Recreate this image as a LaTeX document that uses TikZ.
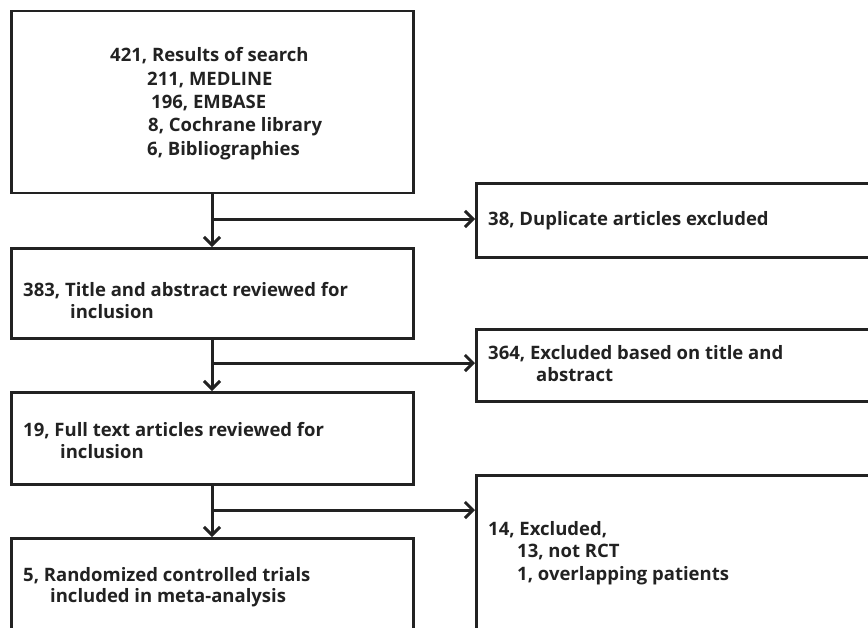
\documentclass[tikz,border=0pt]{standalone}
\usepackage{fontspec}
\setmainfont{Open Sans}
\usetikzlibrary{arrows.meta}
\definecolor{ink}{HTML}{222222}
\begin{document}
\begin{tikzpicture}[x=1pt,y=-1pt,
  box/.style={draw=ink, line width=2.8pt, rectangle, inner sep=0pt, anchor=north west},
  lbl/.style={anchor=base west, inner sep=0pt, text=ink, font=\bfseries\fontsize{18.5}{22}\selectfont},
  arr/.style={draw=ink, line width=3pt, -{Straight Barb[length=8pt,width=16pt]}},
  seg/.style={draw=ink, line width=3pt}]
\useasboundingbox (0,0) rectangle (868,627);
\clip (0,0) rectangle (868,627);
% boxes
\node[box, minimum width=402pt, minimum height=182pt] (b1) at (10,9.5) {};
\node[box, minimum width=450pt, minimum height=74pt] (r1) at (475,182) {};
\node[box, minimum width=402pt, minimum height=90pt] (b2) at (10,247) {};
\node[box, minimum width=450pt, minimum height=72pt] (r2) at (475,328) {};
\node[box, minimum width=402pt, minimum height=92pt] (b3) at (10,391) {};
\node[box, minimum width=450pt, minimum height=200pt] (r3) at (475,474) {};
\node[box, minimum width=402pt, minimum height=150pt] (b4) at (10,537) {};
% junctions
\coordinate (j1) at (212,219);
\coordinate (j2) at (212,363);
\coordinate (j3) at (212,510);
% connectors
\draw[arr] (b1.south -| j1) -- (b2.north -| j1);
\draw[arr] (j1) -- (r1.west |- j1);
\draw[arr] (b2.south -| j2) -- (b3.north -| j2);
\draw[arr] (j2) -- (r2.west |- j2);
\draw[arr] (b3.south -| j3) -- (b4.north -| j3);
\draw[arr] (j3) -- (r3.west |- j3);
% texts
\node[lbl] (t1a) at (110,61.5) {421, Results of search};
\node[lbl] (t1b) at (147,85) {211, MEDLINE};
\node[lbl] (t1c) at (151,108) {196, EMBASE};
\node[lbl] (t1d) at (148,131.5) {8, Cochrane library};
\node[lbl] (t1e) at (147,155) {6, Bibliographies};
\node[lbl] (tr1) at (488,225.5) {38, Duplicate articles excluded};
\node[lbl] (t2a) at (23,296) {383, Title and abstract reviewed for};
\node[lbl] (t2b) at (70,318) {inclusion};
\node[lbl] (tr2a) at (488,359.5) {364, Excluded based on title and};
\node[lbl] (tr2b) at (536,381.5) {abstract};
\node[lbl] (t3a) at (23,436.5) {19, Full text articles reviewed for};
\node[lbl] (t3b) at (60,458.5) {inclusion};
\node[lbl] (tr3a) at (488,535.5) {14, Excluded,};
\node[lbl] (tr3b) at (517,557.5) {13, not RCT};
\node[lbl] (tr3c) at (517,580.5) {1, overlapping patients};
\node[lbl] (t4a) at (23,581.5) {5, Randomized controlled trials};
\node[lbl] (t4b) at (50,602.5) {included in meta-analysis};
\end{tikzpicture}
\end{document}
